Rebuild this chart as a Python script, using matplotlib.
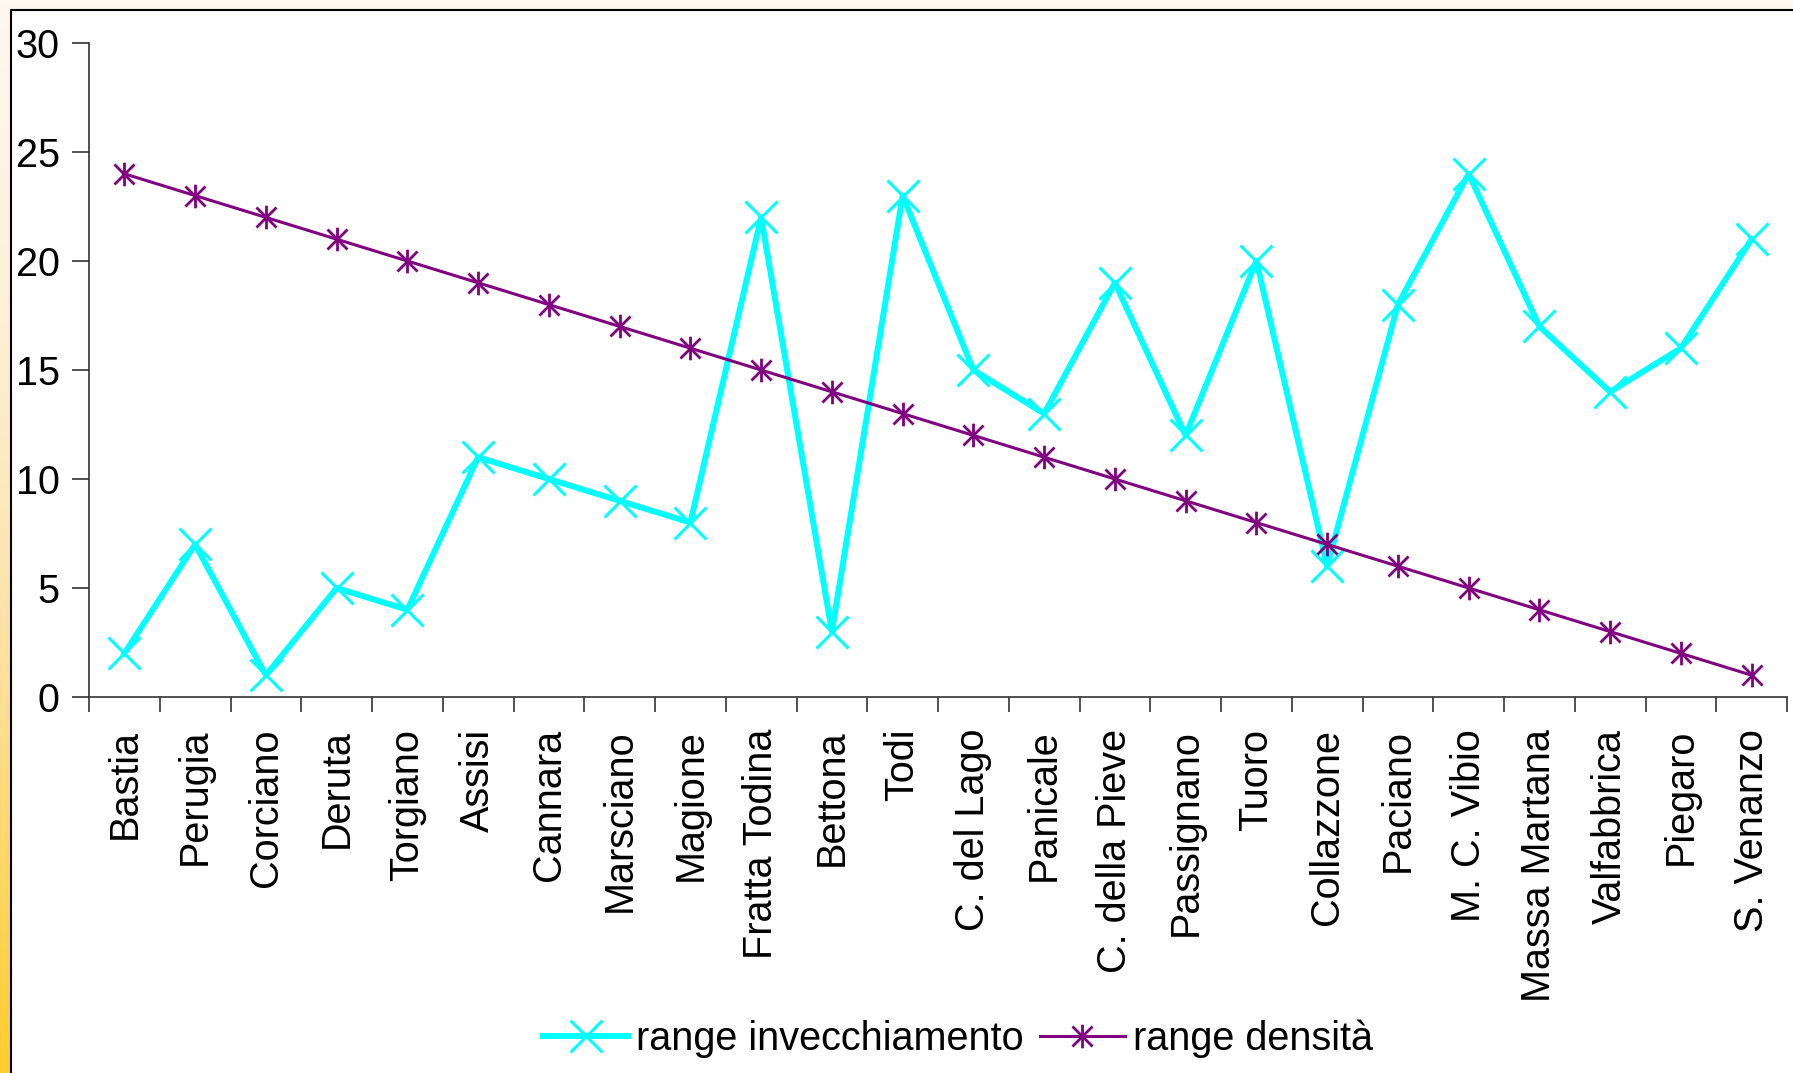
import numpy as np
import matplotlib
matplotlib.use("Agg")
import matplotlib.pyplot as plt
from matplotlib.path import Path
from matplotlib.patches import Rectangle
from matplotlib.colors import LinearSegmentedColormap

# Comuni in ordine di densità decrescente
comuni = ["Bastia", "Perugia", "Corciano", "Deruta", "Torgiano", "Assisi",
          "Cannara", "Marsciano", "Magione", "Fratta Todina", "Bettona", "Todi",
          "C. del Lago", "Panicale", "C. della Pieve", "Passignano", "Tuoro",
          "Collazzone", "Paciano", "M. C. Vibio", "Massa Martana", "Valfabbrica",
          "Piegaro", "S. Venanzo"]
range_invecchiamento = [2, 7, 1, 5, 4, 11, 10, 9, 8, 22, 3, 23,
                        15, 13, 19, 12, 20, 6, 18, 24, 17, 14, 16, 21]
range_densita = [24, 23, 22, 21, 20, 19, 18, 17, 16, 15, 14, 13,
                 12, 11, 10, 9, 8, 7, 6, 5, 4, 3, 2, 1]
y_ticks = [0, 5, 10, 15, 20, 25, 30]

plt.rcParams["font.family"] = ["Liberation Sans", "DejaVu Sans"]

W, H = 1793, 1073
fig = plt.figure(figsize=(W / 100, H / 100), dpi=100)

# Sfondo sfumato (crema in alto, oro in basso)
bg = fig.add_axes([0, 0, 1, 1], zorder=-10)
bg.set_axis_off()
cmap = LinearSegmentedColormap.from_list(
    "sfondo",
    [(0.0, (254/255, 248/255, 238/255)),
     (0.3, (253/255, 240/255, 214/255)),
     (0.6, (254/255, 226/255, 165/255)),
     (1.0, (255/255, 205/255, 45/255))])
grad = np.linspace(0, 1, 256).reshape(-1, 1)
bg.imshow(grad, aspect="auto", cmap=cmap, extent=[0, 1, 0, 1], origin="upper")
bg.set_xlim(0, 1)
bg.set_ylim(0, 1)
# Pannello bianco con bordo nero
px0, py_top = 11 / W, 1 - 10 / H
bg.add_patch(Rectangle((px0, 0), 1 - px0, py_top, facecolor="white",
                       edgecolor="none", zorder=2))
bg.plot([px0, px0, 1], [0, py_top, py_top], color="black", lw=1.5, zorder=3,
        solid_capstyle="butt")

ax = fig.add_axes([89 / W, 1 - 697 / H, (1787 - 89) / W, (697 - 43) / H])
ax.patch.set_alpha(0)

x = np.arange(len(comuni))

asterisco = Path([(0, -1), (0, 1), (-0.85, -0.85), (0.85, 0.85),
                  (-0.85, 0.85), (0.85, -0.85)],
                 [Path.MOVETO, Path.LINETO, Path.MOVETO, Path.LINETO,
                  Path.MOVETO, Path.LINETO])

ax.plot(x, range_invecchiamento, color="#00FFFF", lw=4.3, marker="x",
        markersize=23, markeredgewidth=2.2, label="range invecchiamento",
        clip_on=False, zorder=3)
ax.plot(x, range_densita, color="#800080", lw=2.2, marker=asterisco,
        markersize=17, markeredgewidth=2.0, markerfacecolor="none",
        markeredgecolor="#800080", label="range densità", clip_on=False,
        zorder=4)

ax.set_xlim(-0.5, len(comuni) - 0.5)
ax.set_ylim(0, 30)
ax.set_yticks(y_ticks)
ax.set_yticklabels([str(v) for v in y_ticks])

ax.set_xticks(np.arange(-0.5, len(comuni), 1.0))
ax.set_xticklabels([])
ax.set_xticks(x, minor=True)
ax.set_xticklabels(comuni, minor=True, rotation=90, ha="center", va="top")

ax.tick_params(axis="y", direction="out", length=12, width=1.2,
               color="#333333", labelsize=28.5, pad=9)
ax.tick_params(axis="x", which="major", direction="out", length=11,
               width=1.2, color="#333333")
ax.tick_params(axis="x", which="minor", length=0, labelsize=28.5, pad=23)

for s in ["top", "right"]:
    ax.spines[s].set_visible(False)
for s in ["left", "bottom"]:
    ax.spines[s].set_color("#333333")
    ax.spines[s].set_linewidth(1.2)

fig.legend(loc="center", bbox_to_anchor=(958 / W, 1 - 1039 / H), ncol=2,
           frameon=False, fontsize=28.5, handlelength=2.15, handletextpad=0.2,
           columnspacing=0.4, borderpad=0)

fig.savefig("out.png", dpi=100)
